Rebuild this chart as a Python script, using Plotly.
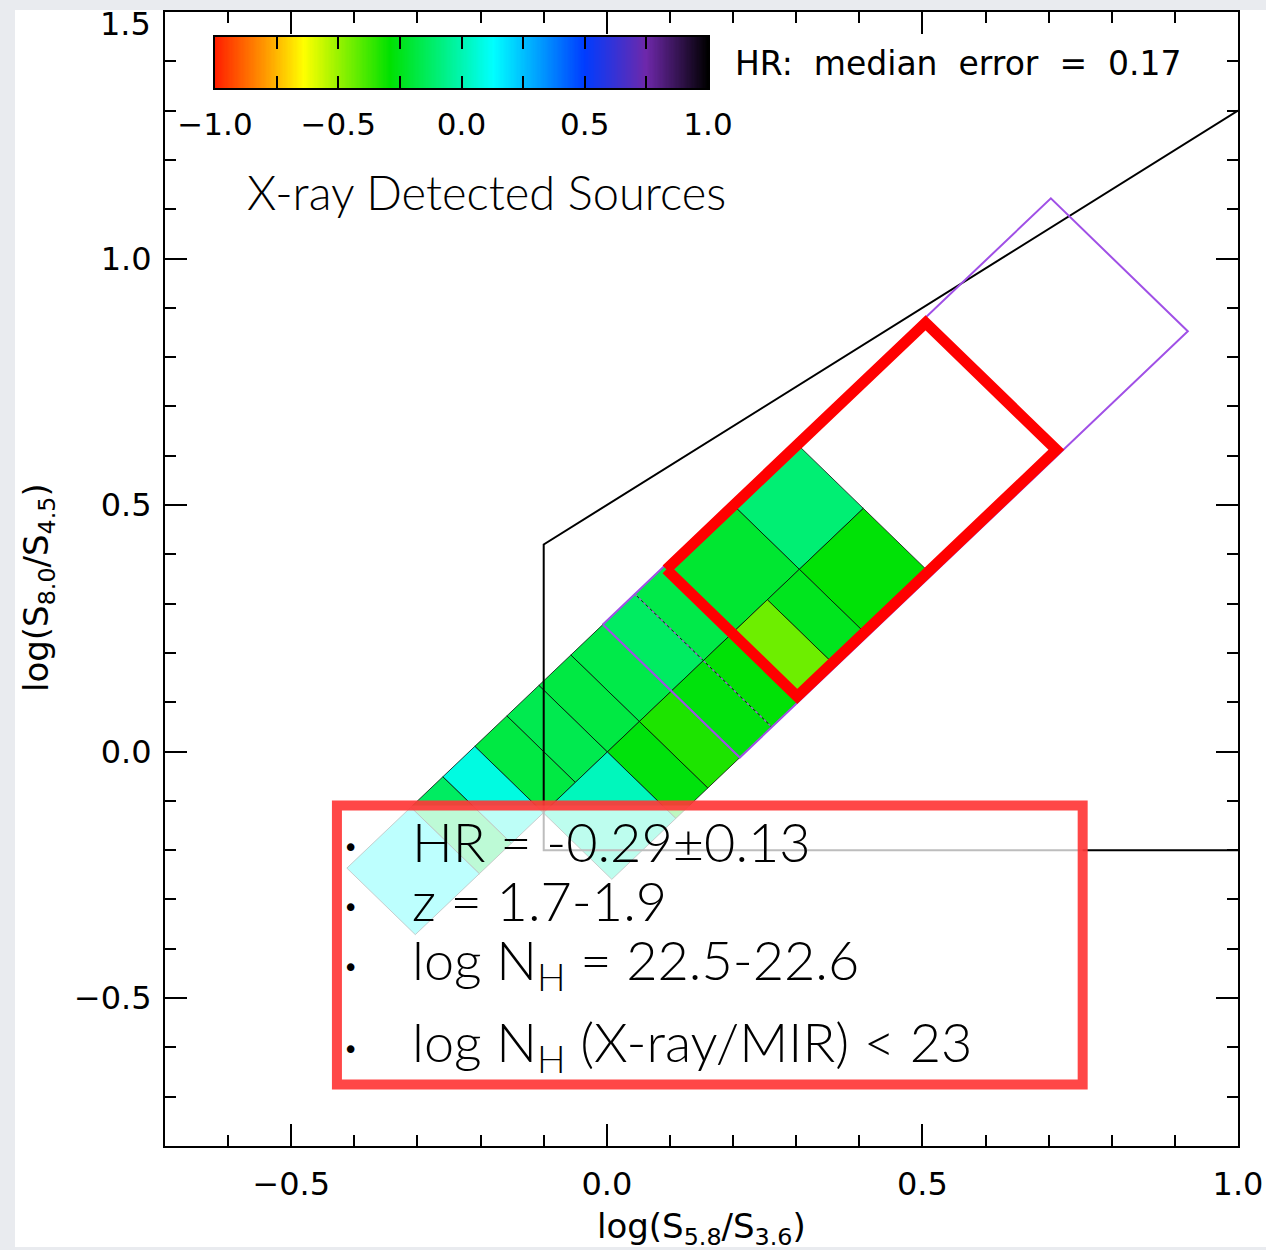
import numpy as np
import plotly.graph_objects as go
from plotly.colors import sample_colorscale

# ---------------- data ----------------
# hardness-ratio colour table: anchor HR values and their colours
cmap_hr = [-1.0, -0.80, -0.64, -0.29, 0.13, 0.50, 0.75, 1.0]
cmap_col = ["rgb(255,30,0)", "rgb(255,150,0)", "rgb(255,255,0)", "rgb(0,225,0)",
            "rgb(0,255,255)", "rgb(0,60,255)", "rgb(110,40,170)", "rgb(0,0,0)"]

# binned cells in the rotated frame (a = along the power-law track, b = across it)
cell_a0 = [4, 2, 1, 0, -1, -2, -3, -4, -5, -6, -8,
           4, 3, 2, 1, 0, -1, -2, -4]
cell_a1 = [6, 4, 2, 1, 0, -1, -2, -3, -4, -5, -6,
           6, 4, 3, 2, 1, 0, -1, -2]
cell_b = [0, 0, 0, 0, 0, 0, 0, 0, 0, 0, 0,
          1, 1, 1, 1, 1, 1, 1, 1]
cell_hr = [-0.10, -0.21, -0.17, -0.13, -0.17, -0.18, -0.16, -0.18, 0.08, -0.13, 0.12,
           -0.28, -0.24, -0.44, -0.28, -0.27, -0.33, -0.27, 0.02]

# rotated-frame definition in data units (log S5.8/S3.6, log S8.0/S4.5)
grid_origin = (-0.0063, 0.2576)
grid_along = (0.0507, 0.06175)
grid_across = (0.1085, -0.1349)

# AGN selection region (purple) and highlighted bin group (red), in frame units
purple_a = (0.0, 14.0)
purple_b = (0.0, 2.0)
purple_dotted_a = 1.0
red_a = (1.9, 10.0)
red_b = (0.04, 1.95)

# black wedge: y <= 0.8 x + 0.5, x >= -0.1, y >= -0.2
wedge_slope, wedge_icpt = 0.8, 0.5
wedge_xmin, wedge_ymin, wedge_xmax = -0.1, -0.2, 1.0

# axis ticks
y_tickvals = [-0.5, 0.0, 0.5, 1.0]
y_ticktext = ["\u22120.5", "0.0", "0.5", "1.0"]
y_top_label = "1.5"
colorbar_ticks = [-1.0, -0.5, 0.0, 0.5, 1.0]
colorbar_text = ["\u22121.0", "\u22120.5", "0.0", "0.5", "1.0"]

info_lines = ["HR = -0.29\u00b10.13",
              "z = 1.7-1.9",
              "log N<sub>H</sub> = 22.5-22.6",
              "log N<sub>H</sub> (X-ray/MIR) &lt; 23"]

# ---------------- helpers ----------------
W, H = 1266, 1250
L, R, T, B = 165, 28, 12, 104
PW, PH = W - L - R, H - T - B


def paper(xp, yp):
    return (xp - L) / PW, (H - B - yp) / PH


def gpt(a, b):
    return (grid_origin[0] + a * grid_along[0] + b * grid_across[0],
            grid_origin[1] + a * grid_along[1] + b * grid_across[1])


def rect(a0, a1, b0, b1):
    pts = [gpt(a0, b0), gpt(a1, b0), gpt(a1, b1), gpt(a0, b1), gpt(a0, b0)]
    return [p[0] for p in pts], [p[1] for p in pts]


cscale = [[(h + 1) / 2, c] for h, c in zip(cmap_hr, cmap_col)]

fig = go.Figure()

# cells
for a0, a1, b, hr in zip(cell_a0, cell_a1, cell_b, cell_hr):
    xs, ys = rect(a0, a1, b, b + 1)
    col = sample_colorscale(cscale, [(hr + 1) / 2])[0]
    fig.add_trace(go.Scatter(x=xs, y=ys, mode="lines", fill="toself", fillcolor=col,
                             line=dict(color="rgba(0,0,0,0.75)", width=1),
                             hoverinfo="skip", showlegend=False))

# black wedge
wx = [wedge_xmax, wedge_xmin, wedge_xmin, wedge_xmax]
wy = [wedge_slope * wedge_xmax + wedge_icpt, wedge_slope * wedge_xmin + wedge_icpt,
      wedge_ymin, wedge_ymin]
fig.add_trace(go.Scatter(x=wx, y=wy, mode="lines", line=dict(color="black", width=2),
                         hoverinfo="skip", showlegend=False))

# purple region
xs, ys = rect(purple_a[0], purple_a[1], purple_b[0], purple_b[1])
fig.add_trace(go.Scatter(x=xs, y=ys, mode="lines", line=dict(color="#a050e6", width=2),
                         hoverinfo="skip", showlegend=False))
p0, p1 = gpt(purple_dotted_a, purple_b[0]), gpt(purple_dotted_a, purple_b[1])
fig.add_trace(go.Scatter(x=[p0[0], p1[0]], y=[p0[1], p1[1]], mode="lines",
                         line=dict(color="#9070c0", width=1.5, dash="dot"),
                         hoverinfo="skip", showlegend=False))

# red highlighted group
xs, ys = rect(red_a[0], red_a[1], red_b[0], red_b[1])
fig.add_trace(go.Scatter(x=xs, y=ys, mode="lines", line=dict(color="#ff0000", width=11),
                         hoverinfo="skip", showlegend=False))

# colour bar drawn as a heatmap on its own axes
cb_vals = np.linspace(-1, 1, 401)
fig.add_trace(go.Heatmap(x=cb_vals, y=[0], z=[cb_vals], colorscale=cscale, zmin=-1, zmax=1,
                         showscale=False, xaxis="x2", yaxis="y2", hoverinfo="skip"))

tickfont = dict(family="DejaVu Sans", size=32, color="black")
axis_common = dict(showline=True, linecolor="black", linewidth=2, mirror="ticks",
                   ticks="inside", ticklen=22, tickwidth=1.5, tickcolor="black",
                   showgrid=False, zeroline=False,
                   tickfont=tickfont, ticklabeloverflow="allow", automargin=False,
                   minor=dict(ticks="inside", ticklen=11, tickwidth=1.5, tickcolor="black",
                              tick0=0, dtick=0.1, showgrid=False))

cbx0, _ = paper(215, 0)
cbx1, _ = paper(708, 0)
_, cby1 = paper(0, 37)
_, cby0 = paper(0, 88)

fig.update_layout(
    width=W, height=H, autosize=False,
    margin=dict(l=L, r=R, t=T, b=B, pad=0, autoexpand=False),
    paper_bgcolor="#e9ebef", plot_bgcolor="rgba(0,0,0,0)",
    xaxis=dict(range=[-0.7, 1.0], ticklabelstandoff=9, tick0=0, dtick=0.5, tickformat=".1f",
               **axis_common),
    yaxis=dict(range=[-0.8, 1.5], ticklabelstandoff=5, tickvals=y_tickvals,
               ticktext=y_ticktext, **axis_common),
    xaxis2=dict(domain=[cbx0, cbx1], anchor="y2", range=[-1, 1], showline=True,
                linecolor="black", linewidth=2, mirror="ticks", ticks="inside", ticklen=12,
                tickwidth=1.5, tickcolor="black", tickvals=colorbar_ticks,
                ticktext=colorbar_text, tickfont=dict(family="DejaVu Sans", size=31, color="black"),
                ticklabelstandoff=8, showgrid=False, zeroline=False, automargin=False,
                minor=dict(ticks="inside", ticklen=12, tickwidth=1.5, tickcolor="black",
                           tick0=0, dtick=0.25, showgrid=False)),
    yaxis2=dict(domain=[cby0, cby1], anchor="x2", range=[-0.5, 0.5], showline=True,
                linecolor="black", linewidth=2, mirror=True, ticks="", showticklabels=False,
                showgrid=False, zeroline=False, automargin=False),
    showlegend=False,
)

# white page area (grey strips remain at left/top/bottom like the reference)
wx0, wy1 = paper(15, 10)
wx1, wy0 = paper(W + 5, 1247)
shapes = [dict(type="rect", xref="paper", yref="paper", x0=wx0, x1=wx1, y0=wy0, y1=wy1,
               fillcolor="white", line=dict(width=0), layer="below")]
# info box (semi-transparent)
shapes.append(dict(type="rect", xref="x", yref="y", x0=-0.4276, x1=0.7539, y0=-0.6755, y1=-0.1095,
                   fillcolor="rgba(255,255,255,0.74)", line=dict(color="rgba(255,55,55,0.92)", width=10),
                   layer="above"))
fig.update_layout(shapes=shapes)

ann = []
# top y tick label (kept inside the page like the reference)
tx, ty = paper(153, 24)
ann.append(dict(x=tx, y=ty, xref="paper", yref="paper", showarrow=False, xanchor="right",
                yanchor="middle", text=y_top_label, font=tickfont))
tx, ty = paper(701, 1228)
ann.append(dict(x=tx, y=ty, xref="paper", yref="paper", showarrow=False, xanchor="center",
                yanchor="middle", text="log(S<sub>5.8</sub>/S<sub>3.6</sub>)",
                font=dict(family="DejaVu Sans", size=34, color="black")))
tx, ty = paper(38, 588)
ann.append(dict(x=tx, y=ty, xref="paper", yref="paper", showarrow=False, xanchor="center",
                yanchor="middle", textangle=-90, text="log(S<sub>8.0</sub>/S<sub>4.5</sub>)",
                font=dict(family="DejaVu Sans", size=34, color="black")))
tx, ty = paper(733, 63)
ann.append(dict(x=tx, y=ty, xref="paper", yref="paper", showarrow=False, xanchor="left",
                yanchor="middle", text="HR:  median  error  =  0.17",
                font=dict(family="DejaVu Sans", size=33, color="black")))
tx, ty = paper(245, 192)
ann.append(dict(x=tx, y=ty, xref="paper", yref="paper", showarrow=False, xanchor="left",
                yanchor="middle", text="X-ray Detected Sources",
                font=dict(family="Lato", size=47, color="black", weight=300)))
line_y = [841, 900, 963, 1045]
bullet_y = [848, 908, 968, 1050]
for txt, ly, by in zip(info_lines, line_y, bullet_y):
    tx, ty = paper(410, ly)
    ann.append(dict(x=tx, y=ty, xref="paper", yref="paper", showarrow=False, xanchor="left",
                    yanchor="middle", text=txt,
                    font=dict(family="Lato", size=54, color="black", weight=300)))
    bx, byy = paper(350, by)
    ann.append(dict(x=bx, y=byy, xref="paper", yref="paper", showarrow=False, xanchor="center",
                    yanchor="middle", text="\u2022",
                    font=dict(family="DejaVu Sans", size=26, color="black")))
fig.update_layout(annotations=ann)

post = ("document.documentElement.style.overflow='hidden';"
        "document.body.style.overflow='hidden';"
        "document.documentElement.style.margin='0';"
        "document.body.style.margin='0';document.body.style.padding='0';")
fig.write_html("out.html", include_plotlyjs=True,
               config={"displayModeBar": False},
               post_script=post)
